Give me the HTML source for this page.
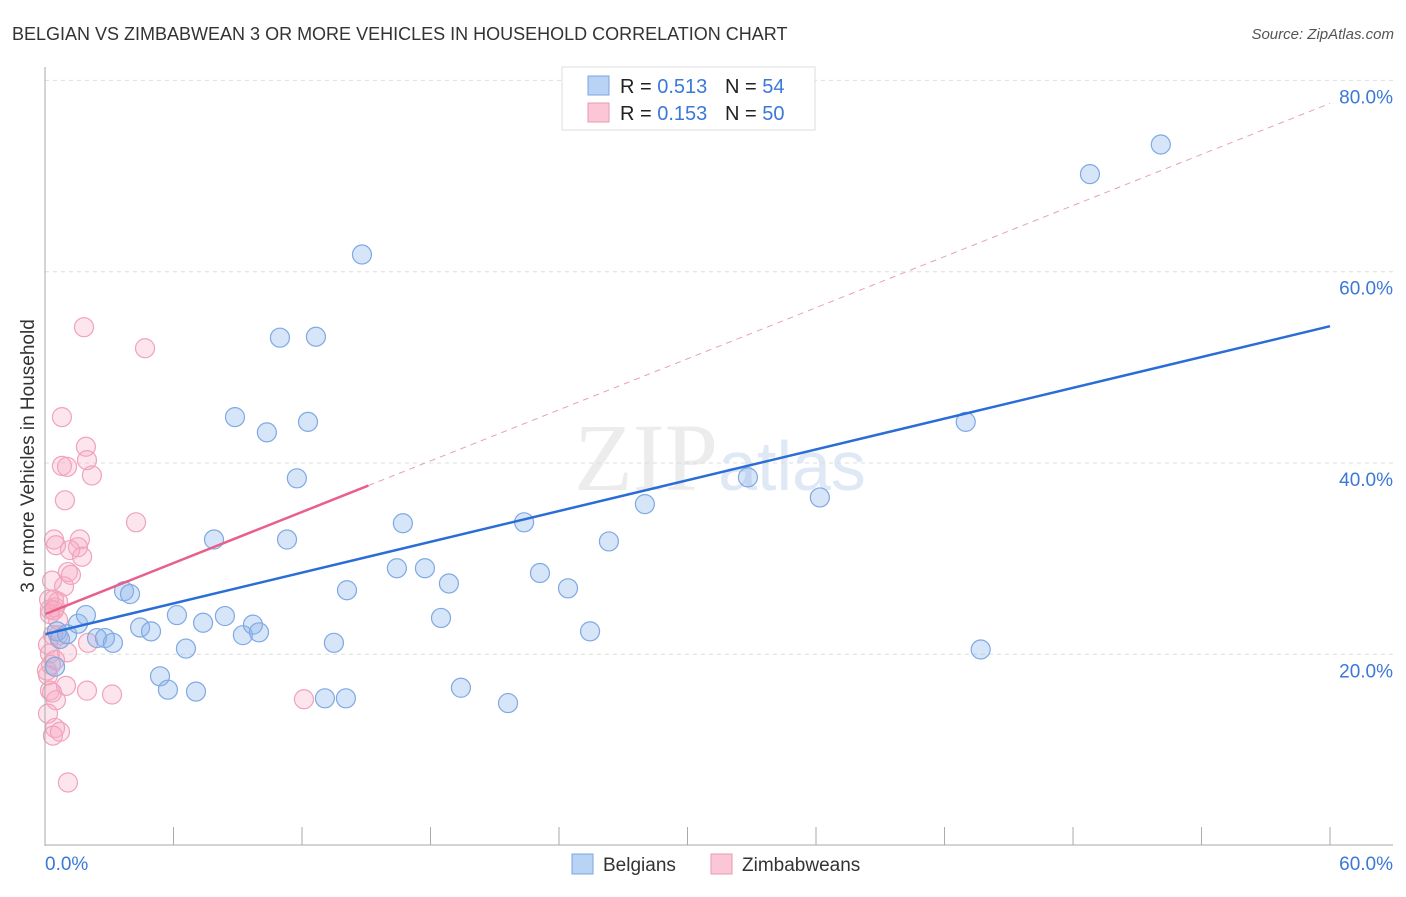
<!DOCTYPE html>
<html><head><meta charset="utf-8"><style>
body{margin:0;background:#fff;font-family:"Liberation Sans",sans-serif;}
</style></head><body>
<svg width="1406" height="892" xmlns="http://www.w3.org/2000/svg" id="svg">
<text x="12" y="40" font-size="18" fill="#333">BELGIAN VS ZIMBABWEAN 3 OR MORE VEHICLES IN HOUSEHOLD CORRELATION CHART</text>
<text x="1394" y="39" font-size="15" fill="#555" font-style="italic" text-anchor="end">Source: ZipAtlas.com</text>
<text x="720" y="490" font-size="96" fill="#ececec" text-anchor="middle" font-family="Liberation Serif">ZIP<tspan fill="#dfe8f5" font-family="Liberation Sans" font-size="70">atlas</tspan></text>
<text transform="translate(34,456) rotate(-90)" font-size="19" fill="#333" text-anchor="middle">3 or more Vehicles in Household</text>
<g id="grid"></g><g id="ticks"></g><g id="pts"></g><g id="lines"></g>
<line x1="45" y1="67" x2="45" y2="846" stroke="#aaa"/>
<line x1="45" y1="845" x2="1393" y2="845" stroke="#aaa"/>
<text x="45" y="870" font-size="19" fill="#3b78d8">0.0%</text>
<text x="1393" y="870" font-size="19" fill="#3b78d8" text-anchor="end">60.0%</text>
<g>
<rect x="562" y="67" width="253" height="63" fill="#fff" stroke="#ddd"/>
<rect x="588" y="76" width="21" height="19" fill="#b9d3f5" stroke="#7aa6e2"/>
<rect x="588" y="103" width="21" height="19" fill="#fbc7d6" stroke="#ea98b1"/>
<text x="620" y="93" font-size="20" fill="#222">R = <tspan fill="#3b78d8">0.513</tspan><tspan x="725">N = </tspan><tspan fill="#3b78d8">54</tspan></text>
<text x="620" y="120" font-size="20" fill="#222">R = <tspan fill="#3b78d8">0.153</tspan><tspan x="725">N = </tspan><tspan fill="#3b78d8">50</tspan></text>
</g>
<g>
<rect x="572" y="854" width="21" height="20" fill="#b9d3f5" stroke="#7aa6e2"/>
<text x="603" y="871" font-size="19" fill="#333">Belgians</text>
<rect x="711" y="854" width="21" height="20" fill="#fbc7d6" stroke="#ea98b1"/>
<text x="742" y="871" font-size="19" fill="#333">Zimbabweans</text>
</g>
</svg>
<script>
const blueX=[0.56,0.7,0.47,1.03,1.54,1.91,2.43,2.8,3.17,3.69,3.97,4.44,4.95,5.37,5.74,6.16,6.58,7.05,7.38,7.89,8.4,8.87,9.24,9.71,9.99,10.36,10.97,11.76,11.3,12.28,12.65,13.07,13.49,14.05,14.1,14.8,16.43,16.71,17.74,18.49,18.86,19.42,21.62,22.37,23.11,24.42,25.45,26.33,28.01,32.82,36.18,42.99,43.69,48.79,52.1];
const blueY=[22.4,21.6,18.7,22.1,23.2,24.1,21.7,21.7,21.2,26.6,26.3,22.8,22.4,17.7,16.3,24.1,20.6,16.1,23.3,32.0,24.0,44.8,22.0,23.1,22.3,43.2,53.1,38.4,32.0,44.3,53.2,15.4,21.2,15.4,26.7,61.8,29.0,33.7,29.0,23.8,27.4,16.5,14.9,33.8,28.5,26.9,22.4,31.8,35.7,38.5,36.4,44.3,20.5,70.2,73.3];
const pinkX=[1.82,4.67,0.79,1.91,1.96,0.79,1.03,2.19,0.93,4.25,0.42,0.51,1.63,1.54,1.17,1.73,0.89,1.07,1.21,0.42,0.61,0.47,2.01,0.61,0.23,0.37,0.14,0.23,0.47,1.03,0.28,0.14,0.23,0.98,1.96,3.13,0.33,0.51,12.09,0.14,0.47,0.37,0.7,1.07,0.23,0.09,0.61,0.19,0.42,0.33];
const pinkY=[54.2,52.0,44.8,41.7,40.3,39.7,39.6,38.7,36.1,33.8,32.0,31.4,32.0,31.2,30.9,30.2,27.1,28.6,28.3,25.7,25.5,24.9,21.2,23.6,24.7,22.0,21.0,20.1,19.4,20.2,18.9,17.8,16.2,16.7,16.2,15.8,16.0,15.2,15.3,13.8,12.3,11.5,11.9,6.6,24.2,18.3,22.0,25.7,24.6,27.7];
const blueFit=[22.1,54.3];
const pinkFit=[24.2,0.89];
const xTicks=[0,6,12,18,24,30,36,42,48,54,60];
const yTicks=[20,40,60,80];
const yLabels=["20.0%","40.0%","60.0%","80.0%"];
const X=v=>45+v*21.417, Y=v=>845.6-v*9.565;
const NS="http://www.w3.org/2000/svg";
function mk(t,a,p){const e=document.createElementNS(NS,t);for(const k in a)e.setAttribute(k,a[k]);document.getElementById(p).appendChild(e);return e;}
yTicks.forEach((t,i)=>{
 const l=mk('line',{x1:45,x2:1393,y1:Y(t),y2:Y(t),stroke:'#ddd','stroke-dasharray':'4,4'},'grid');
 
 
 const tx=mk('text',{x:1393,y:Y(t)+23,'font-size':19,fill:'#3b78d8','text-anchor':'end'},'grid');
 tx.textContent=yLabels[i];
 
 
});
xTicks.forEach(t=>{
 const l=mk('line',{x1:X(t),x2:X(t),y1:827,y2:845,stroke:'#aaa'},'ticks');
 
 
});
pinkX.forEach((x,i)=>{
 const c=mk('circle',{cx:X(x),cy:Y(pinkY[i]),r:9.5,fill:'rgba(248,170,195,0.3)',stroke:'#f0a3ba','stroke-width':1.2},'pts');
 
 
});
blueX.forEach((x,i)=>{
 const c=mk('circle',{cx:X(x),cy:Y(blueY[i]),r:9.5,fill:'rgba(140,180,235,0.35)',stroke:'#7ea9e3','stroke-width':1.2},'pts');
 
 
});
let l=mk('line',{x1:X(15.1),y1:Y(pinkFit[0]+pinkFit[1]*15.1),x2:X(60),y2:Y(pinkFit[0]+pinkFit[1]*60),stroke:'#e8a0b5','stroke-width':1,'stroke-dasharray':'6,5'},'lines');


l=mk('line',{x1:X(0),y1:Y(pinkFit[0]),x2:X(15.1),y2:Y(pinkFit[0]+pinkFit[1]*15.1),stroke:'#e8608a','stroke-width':2.5},'lines');


l=mk('line',{x1:X(0),y1:Y(blueFit[0]),x2:X(60),y2:Y(blueFit[1]),stroke:'#2a6dd6','stroke-width':2.5},'lines');


</script>
</body></html>
